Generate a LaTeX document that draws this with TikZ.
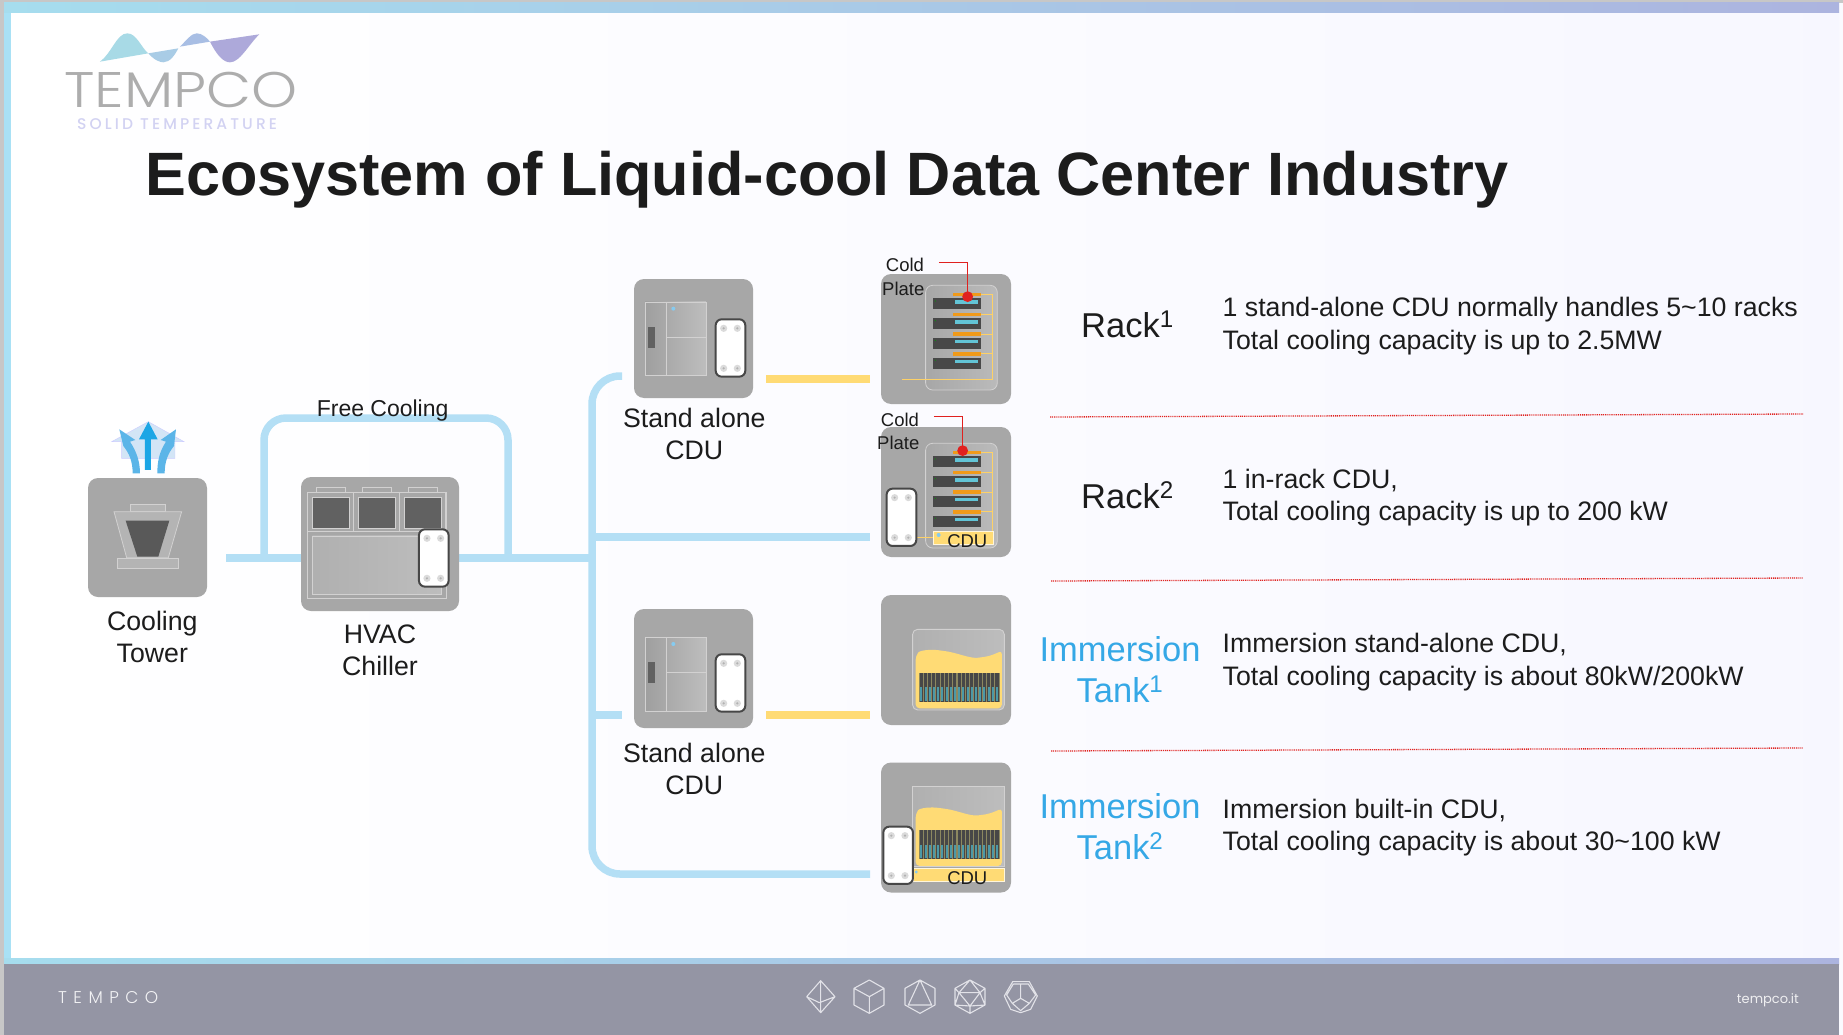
\documentclass[tikz,border=0pt]{standalone}
\usepackage{fontspec}
\setmainfont{Liberation Sans}
\newfontfamily\logofont[FakeStretch=1.17]{Poppins Light}
\newfontfamily\logospaced[LetterSpace=20]{Poppins Medium}
\newfontfamily\footfont[LetterSpace=38]{Poppins Light}
\usetikzlibrary{backgrounds}
\pgfdeclarelayer{bg}\pgfdeclarelayer{pipes}
\pgfsetlayers{bg,pipes,main}
\definecolor{devgray}{HTML}{A7A7A7}
\definecolor{pipeblue}{HTML}{B4DFF5}
\definecolor{hotyellow}{HTML}{FFDB75}
\definecolor{ink}{HTML}{1C1C1C}
\definecolor{skyink}{HTML}{35A8E6}
\definecolor{footgray}{HTML}{9495A4}
\definecolor{edge}{HTML}{D2D1D1}
\definecolor{srv}{HTML}{484848}
\definecolor{teal}{HTML}{62C4D6}
\definecolor{orange}{HTML}{F09A1A}
\definecolor{redline}{HTML}{E0211F}
\definecolor{footline}{HTML}{E2E2E8}
\definecolor{barL}{HTML}{A6DDEE}
\definecolor{barR}{HTML}{ACB4DF}
\definecolor{stripL}{HTML}{A9E1F5}
\definecolor{wave1}{HTML}{A8DAE6}
\definecolor{wave2}{HTML}{A9CCE6}
\definecolor{wave3}{HTML}{A8BEE4}
\definecolor{wave4}{HTML}{ADA9DA}
\definecolor{gapolive}{HTML}{8C8860}
\tikzset{
  devbox/.style={fill=devgray,draw=none,rounded corners=10pt,inner sep=0pt,minimum width=#1},
  pipe/.style={draw=pipeblue,line width=7.5pt},
  hotpipe/.style={draw=hotyellow,line width=7.5pt},
  lab/.style={text=ink,font=\fontsize{26.7}{32}\selectfont,inner sep=0pt,anchor=base},
  rowtxt/.style={text=ink,font=\fontsize{26.7}{32}\selectfont,inner sep=0pt,anchor=base west},
  headtxt/.style={font=\fontsize{34.5}{40}\selectfont,inner sep=0pt,anchor=base},
  smalltxt/.style={text=ink,font=\fontsize{18.5}{22}\selectfont,inner sep=0pt,anchor=base},
  divider/.style={draw=redline,line width=1.3pt,dash pattern=on 1pt off .9pt},
  callout/.style={draw=redline,line width=1.2pt},
  fine/.style={draw=edge,line width=.8pt},
  icon/.style={draw=footline,line width=1.1pt,line join=round},
}
\newcommand{\hxcell}[2]{% left, top in zoom units
  \draw[draw=black!72,line width=2pt,fill=white,rounded corners=6pt] (#1,#2) rectangle ++(89,172);
  \foreach \bx/\by in {24/27,65/27,24/147,65/147}{
    \fill[black!14] ({#1+\bx},{#2+\by}) circle (3.6pt);
    \fill[black!30] ({#1+\bx},{#2+\by}) circle (1.2pt);}
}
\newcommand{\cdubody}[1]{% vertical offset from the upper layout
  \begin{scope}[shift={(0,#1)}]
  \shade[left color=devgray!95!black,right color=devgray!75!white] (195,156) rectangle (378,376);
  \draw[fine] (195,156) rectangle (378,376) (259,156) -- (259,376) (259,263) -- (378,263);
  \fill[black!62] (204,230) rectangle (224,295);
  \fill[skyink!60!white] (280,176) circle (2pt);
  \end{scope}
}
\newcommand{\rackbody}[1]{%
  \begin{scope}[shift={(0,#1)}]
  \draw[fine,left color=devgray,right color=devgray!78!white,rounded corners=7pt] (1037,106) rectangle (1252,420);
  \draw[draw=hotyellow!85!orange,line width=.9pt] (1238,133) -- (1238,371);
  \foreach \r in {0,59.2,118.4,177.6}{
    \begin{scope}[shift={(0,\r)}]
    \draw[draw=hotyellow!85!orange,line width=.9pt] (1202,134) -- (1238,134);
    \fill[orange] (1118,129) rectangle (1202,139);
    \fill[srv] (1060,145) rectangle (1202,178);
    \fill[teal] (1124,151) rectangle (1195,162);
    \fill[green!60!black] (1066,153) circle (.6pt);
    \end{scope}}
  \end{scope}
}
\newcommand{\tankbody}[1]{%
  \begin{scope}[shift={(0,#1)}]
  \fill[hotyellow,rounded corners=4pt] (1007,385) -- (1007,228) .. controls (1020,210) and (1055,208) .. (1085,212) .. controls (1130,218) and (1170,236) .. (1205,232) .. controls (1230,228) and (1250,220) .. (1266,211) -- (1266,385) -- cycle;
  \fill[gapolive] (1018,278) rectangle (1259,365);
  \foreach \c in {0,...,18}{
    \fill[black!72] ({1019+12.63*\c},278) rectangle ++(9.5,87);
    \fill[teal!78!black] ({1021+12.63*\c},322) rectangle ++(6,40);
  }
  \end{scope}
}
\begin{document}
\begin{tikzpicture}[x=1pt,y=-1pt]
\useasboundingbox (0,0) rectangle (1843,1035);
%%% frame
\begin{pgfonlayer}{bg}
\fill[white!98!blue] (0,0) rectangle (1843,1035);
\shade[left color=white,right color=white!97!blue] (11,13) rectangle (1839,958);
\fill[black!22] (0,0) rectangle (1843,3);
\fill[black!22] (0,0) rectangle (4,1035);
\shade[left color=barL,right color=barR] (4,3) rectangle (1839,13);
\fill[stripL] (4,13) rectangle (11,958);
\shade[left color=barL,right color=barR] (4,958) rectangle (1839,964);
\fill[footgray] (4,964) rectangle (1839,1035);
\end{pgfonlayer}
%%% logo
\begin{scope}[x=.3333pt,y=-.3333pt]
\fill[wave1] (300,185) .. controls (335,160) and (350,100) .. (382,100) .. controls (410,100) and (425,145) .. (445,160) -- cycle;
\fill[wave2] (445,160) .. controls (462,180) and (480,187) .. (490,187) .. controls (510,187) and (525,165) .. (535,145) -- cycle;
\fill[wave3] (540,140) .. controls (560,120) and (575,100) .. (590,100) .. controls (605,100) and (620,112) .. (630,125) -- cycle;
\fill[wave4] (630,125) .. controls (650,165) and (670,187) .. (690,187) .. controls (720,187) and (745,135) .. (778,103) -- cycle;
\end{scope}
\node[inner sep=0pt,anchor=base west,text=black!32,font=\logofont\fontsize{50}{50}\selectfont] (logoname) at (64,108) {TEMPCO};
\node[inner sep=0pt,anchor=base west,text=blue!14!white!90!gray,font=\logospaced\fontsize{15.5}{16}\selectfont] (logotag) at (77,130) {SOLID TEMPERATURE};
%%% title
\node[inner sep=0pt,anchor=base west,text=ink,font=\bfseries\fontsize{61.2}{70}\selectfont] (title) at (145,195) {Ecosystem of Liquid-cool Data Center Industry};
%%% device boxes
\node[devbox=119pt,minimum height=119pt] (tower) at (147.5,537.5) {};
\node[devbox=158pt,minimum height=134pt] (hvac) at (380,544) {};
\node[devbox=119pt,minimum height=119pt] (cduA) at (693.5,338.5) {};
\node[devbox=119pt,minimum height=119pt] (cduB) at (693.5,668.5) {};
\node[devbox=130pt,minimum height=130pt] (rackA) at (946,339) {};
\node[devbox=130pt,minimum height=130pt] (rackB) at (946,492) {};
\node[devbox=130pt,minimum height=130pt] (tankA) at (946,660) {};
\node[devbox=130pt,minimum height=130pt] (tankB) at (946,827.5) {};
%%% pipes
\coordinate (mainW) at (226,558);
\coordinate (trunkJ) at (592,558);
\coordinate (loopW) at (264,558);
\coordinate (loopE) at (508,558);
\coordinate (feedA) at (622,376);
\coordinate (feedB) at (622,715);
\coordinate (feedRack) at (870,537);
\coordinate (feedTank) at (870,874);
\coordinate (hotAw) at (766,379);
\coordinate (hotAe) at (870,379);
\coordinate (hotBw) at (766,715);
\coordinate (hotBe) at (870,715);
\begin{pgfonlayer}{pipes}
\draw[pipe] (mainW) -- (trunkJ);
\draw[pipe,rounded corners=22pt] (loopW) -- (264,418) -- (508,418) -- (loopE);
\draw[pipe,rounded corners=28pt] (feedA) -- (592,376) -- (592,874) -- (feedTank);
\draw[pipe] (592,537) -- (feedRack);
\draw[pipe] (592,715) -- (feedB);
\draw[hotpipe] (hotAw) -- (hotAe);
\draw[hotpipe] (hotBw) -- (hotBe);
\end{pgfonlayer}
%%% cooling tower and chiller
\begin{scope}[shift={(60,390)},x=.3333pt,y=-.3333pt]
\definecolor{houseC}{HTML}{D3E5F6}
\definecolor{arrowS}{HTML}{5BB5E8}
\definecolor{arrowM}{HTML}{1CA6E5}
\fill[houseC,draw=blue!20!white,line width=.4pt] (155,155) -- (265,95) -- (372,155) -- (345,155) -- (345,205) -- (185,205) -- (185,155) -- cycle;
\fill[arrowS] (218,250) .. controls (218,215) and (208,190) .. (190,168) -- (178,118) -- (226,150) -- (210,155) .. controls (230,185) and (240,215) .. (240,250) -- cycle;
\fill[arrowS] (314,250) .. controls (314,215) and (324,190) .. (342,168) -- (348,118) -- (302,150) -- (318,155) .. controls (298,185) and (292,215) .. (292,250) -- cycle;
\fill[arrowM] (255,240) -- (255,148) -- (237,148) -- (265,95) -- (293,148) -- (273,148) -- (273,240) -- cycle;
\draw[fine,fill=devgray!85!white] (210,342) rectangle (317,363);
\draw[fine,fill=devgray!85!white] (162,365) -- (365,365) -- (325,503) -- (200,503) -- cycle;
\fill[black!65] (197,392) -- (328,392) -- (295,500) -- (232,500) -- cycle;
\draw[fine,fill=devgray!85!white] (172,504) rectangle (355,535);
\foreach \fx in {768,906,1044}{\draw[fine,fill=devgray] (\fx,292) rectangle ++(89,16);}
\draw[fine] (742,308) rectangle (1158,625);
\foreach \fx in {742,880,1018}{\draw[fine] (\fx,308) rectangle ++(138,117);}
\foreach \fx in {756,894,1032}{\draw[draw=edge,line width=.6pt,fill=black!62] (\fx,322) rectangle ++(113,94);}
\draw[fine,left color=devgray!90!white,right color=devgray!75!white] (757,438) rectangle (1143,612);
\hxcell{1077}{418}
\node[lab] (towerlab) at (277,721) {Cooling};
\node[lab] (towerlabb) at (277,818) {Tower};
\node[lab] (hvaclab) at (960,761) {HVAC};
\node[lab] (hvaclabb) at (960,856) {Chiller};
\node[text=ink,font=\fontsize{23}{28}\selectfont,inner sep=0pt,anchor=base] (freelab) at (968,79) {Free Cooling};
\end{scope}
%%% upper CDU and racks
\begin{scope}[shift={(580,250)},x=.3333pt,y=-.3333pt]
\cdubody{0}
\hxcell{407}{208}
\node[lab] (cduAl) at (343,534) {Stand alone};
\node[lab] (cduAm) at (343,628) {CDU};
\rackbody{0}
\draw[draw=hotyellow!85!orange,line width=.9pt] (1238,371) -- (1238,388) -- (965,388);
\rackbody{474}
\fill[hotyellow] (1059,843) rectangle (1240,882);
\draw[draw=white!75!hotyellow,line width=.8pt] (1059,843) rectangle (1240,882);
\draw[draw=hotyellow!85!orange,line width=.9pt] (1010,862) -- (1059,862);
\fill[skyink!60!white] (1076,855) circle (2pt);
\hxcell{920}{716}
\node[smalltxt] (cduInRack) at (1162,893) {CDU};
\node[smalltxt] (coldA) at (975,66) {Cold};
\node[smalltxt] (plateA) at (970,136) {Plate};
\node[smalltxt] (coldB) at (960,530) {Cold};
\node[smalltxt] (plateB) at (955,598) {Plate};
\coordinate (calloutA) at (1077,37);
\coordinate (calloutB) at (1062,500);
\draw[callout] (calloutA) -- (1163,37) -- (1163,140);
\draw[callout] (calloutB) -- (1148,500) -- (1148,602);
\fill[redline] (1163,140) circle (5.4pt);
\fill[redline] (1148,602) circle (5.4pt);
\end{scope}
%%% lower CDU and tanks
\begin{scope}[shift={(580,580)},x=.3333pt,y=-.3333pt]
\begin{scope}[shift={(0,-1)}]
\shade[left color=devgray!95!black,right color=devgray!75!white] (195,174) rectangle (378,394);
\draw[fine] (195,174) rectangle (378,394) (259,174) -- (259,394) (259,279) -- (378,279);
\fill[black!62] (204,248) rectangle (224,311);
\fill[skyink!60!white] (280,193) circle (2pt);
\end{scope}
\hxcell{407}{223}
\node[lab] (cduBl) at (343,549) {Stand alone};
\node[lab] (cduBm) at (343,644) {CDU};
\draw[draw=edge,line width=.9pt,left color=devgray!90!white,right color=devgray!75!white,rounded corners=5pt] (998,148) rectangle (1273,390);
\tankbody{0}
\draw[draw=edge,line width=.9pt,left color=devgray!90!white,right color=devgray!75!white] (998,620) rectangle (1273,860);
\tankbody{473}
\fill[hotyellow] (1000,866) rectangle (1273,903);
\draw[draw=white!75!hotyellow,line width=.8pt] (1000,866) rectangle (1273,903);
\fill[skyink!60!white] (1009,876) circle (1.6pt);
\hxcell{910}{740}
\node[smalltxt] (cduInTank) at (1162,915) {CDU};
\end{scope}
%%% right column
\node[headtxt,text=ink,anchor=base west] (rowA) at (1081,337) {Rack\textsuperscript{1}};
\node[headtxt,text=ink,anchor=base west] (rowB) at (1081,508) {Rack\textsuperscript{2}};
\node[headtxt,text=skyink] (rowC) at (1120,661) {Immersion};
\node[headtxt,text=skyink] (rowCb) at (1120,702) {Tank\textsuperscript{1}};
\node[headtxt,text=skyink] (rowD) at (1120,818) {Immersion};
\node[headtxt,text=skyink] (rowDb) at (1120,859) {Tank\textsuperscript{2}};
\node[rowtxt] (noteA) at (1222.5,316) {1 stand-alone CDU normally handles 5\textasciitilde10 racks};
\node[rowtxt] (noteAb) at (1222.5,349) {Total cooling capacity is up to 2.5MW};
\node[rowtxt] (noteB) at (1222.5,488) {1 in-rack CDU,};
\node[rowtxt] (noteBb) at (1222.5,520) {Total cooling capacity is up to 200 kW};
\node[rowtxt] (noteC) at (1222.5,652) {Immersion stand-alone CDU,};
\node[rowtxt] (noteCb) at (1222.5,685) {Total cooling capacity is about 80kW/200kW};
\node[rowtxt] (noteD) at (1222.5,818) {Immersion built-in CDU,};
\node[rowtxt] (noteDb) at (1222.5,850) {Total cooling capacity is about 30\textasciitilde100 kW};
\coordinate (divAw) at (1050,417);\coordinate (divAe) at (1803,414);
\coordinate (divBw) at (1051,581);\coordinate (divBe) at (1803,578);
\coordinate (divCw) at (1051,751);\coordinate (divCe) at (1803,748);
\draw[divider] (divAw) -- (divAe);
\draw[divider] (divBw) -- (divBe);
\draw[divider] (divCw) -- (divCe);
%%% footer
\node[inner sep=0pt,anchor=base west,text=white!88!footgray,font=\footfont\fontsize{17}{18}\selectfont] (footname) at (58,1003) {TEMPCO};
\node[inner sep=0pt,anchor=base east,text=white!85!footgray,font=\fontspec{Poppins}\fontsize{13}{15}\selectfont] (footurl) at (1799,1003) {tempco.it};
\begin{scope}[shift={(780,970)},x=.3333pt,y=-.3333pt]
\draw[icon] (122,32) -- (165,80) -- (122,128) -- (80,80) -- cycle (122,32) -- (122,128) (80,80) -- (118,98) -- (165,80);
\draw[icon] (268,30) -- (312,55) -- (312,105) -- (268,130) -- (222,105) -- (222,55) -- cycle (222,55) -- (268,80) -- (312,55) (268,80) -- (268,130);
\draw[icon] (420,30) -- (465,55) -- (465,105) -- (420,130) -- (375,105) -- (375,55) -- cycle (420,30) -- (385,105) -- (455,105) -- cycle;
\draw[icon] (570,30) -- (615,55) -- (615,105) -- (570,130) -- (525,105) -- (525,55) -- cycle (537,68) -- (600,68) -- (570,108) -- cycle (570,30) -- (537,68) (570,30) -- (600,68) (525,55) -- (537,68) (615,55) -- (600,68) (525,105) -- (537,68) (615,105) -- (600,68) (525,105) -- (570,108) (615,105) -- (570,108) (570,130) -- (570,108);
\draw[icon] (698,35) -- (748,35) -- (772,78) -- (752,118) -- (722,128) -- (692,118) -- (673,78) -- cycle (700,42) -- (745,42) (700,42) -- (680,75) (745,42) -- (767,75) (722,42) -- (722,85) (722,85) -- (697,100) -- (680,75) (722,85) -- (748,100) -- (767,75) (697,100) -- (722,122) -- (748,100);
\end{scope}
\end{tikzpicture}
\end{document}
